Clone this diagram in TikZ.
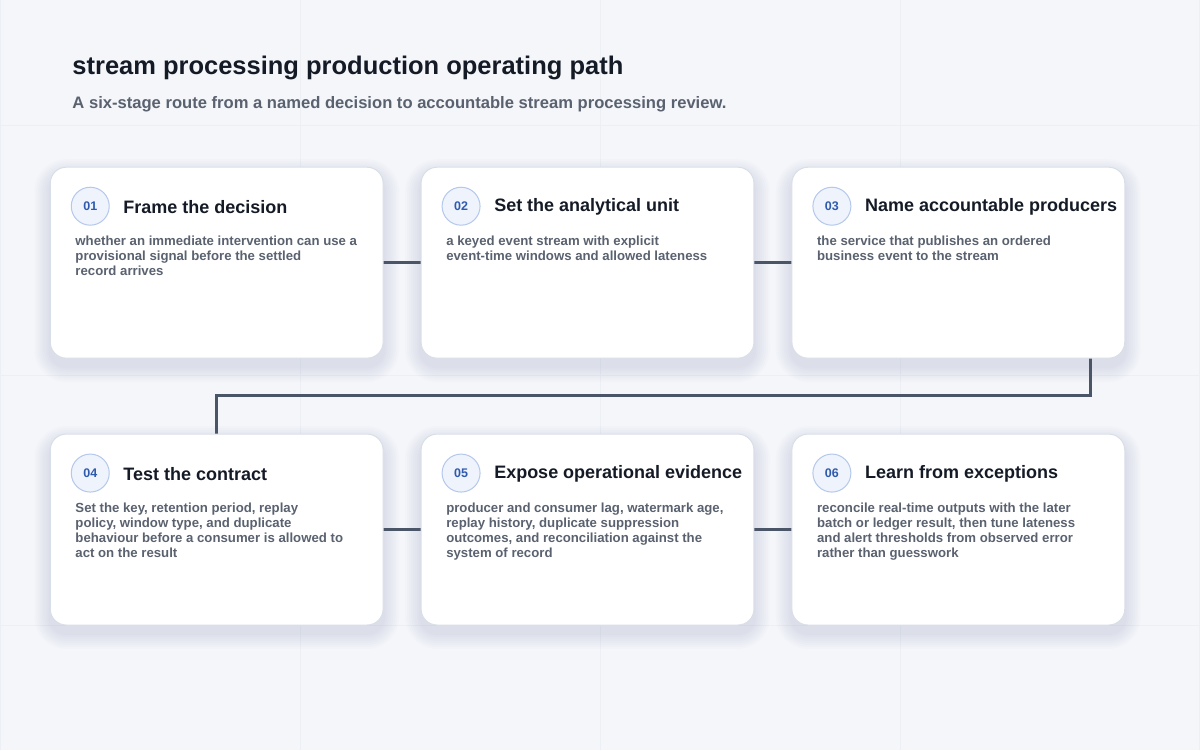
\documentclass[tikz,border=0pt]{standalone}
\usepackage{fontspec}
\setmainfont{Liberation Sans}
\definecolor{bg}{HTML}{F4F6FA}
\definecolor{gridc}{HTML}{ECEFF4}
\definecolor{cardb}{HTML}{D9DFE8}
\definecolor{line}{HTML}{4A5568}
\definecolor{circf}{HTML}{EEF3FC}
\definecolor{circb}{HTML}{B5C8EC}
\definecolor{num}{HTML}{2F5AAE}
\definecolor{ttl}{HTML}{151B26}
\definecolor{body}{HTML}{5A6270}
\definecolor{shad}{HTML}{6B7A99}
\begin{document}
\begin{tikzpicture}[x=1pt,y=-1pt,
  card/.style={draw=cardb,line width=1pt,fill=white,rounded corners=16pt},
  shd/.style={fill=shad,fill opacity=0.018,draw=none},
  circ/.style={circle,draw=circb,fill=circf,line width=1pt,minimum size=38pt,inner sep=0pt,font=\bfseries\fontsize{12.5}{14}\selectfont,text=num},
  ctitle/.style={anchor=west,font=\bfseries\fontsize{18}{20}\selectfont,text=ttl,inner sep=0pt},
  cbody/.style={anchor=north west,align=left,font=\bfseries\fontsize{13.2}{15}\selectfont,text=body,inner sep=0pt},
  conn/.style={draw=line,line width=3pt}]
\fill[bg] (0,0) rectangle (1200,750);
\foreach \x in {0,300,600,900,1200} \draw[gridc,line width=0.6pt] (\x,0)--(\x,750);
\foreach \y in {125,375,625} \draw[gridc,line width=0.6pt] (0,\y)--(1200,\y);
\useasboundingbox (0,0) rectangle (1200,750);
\node[anchor=west,inner sep=0pt,font=\bfseries\fontsize{25.5}{28}\selectfont,text=ttl] (t) at (72,68) {stream processing production operating path};
\node[anchor=west,inner sep=0pt,font=\bfseries\fontsize{16.6}{19}\selectfont,text=body] (st) at (72,104) {A six-stage route from a named decision to accountable stream processing review.};
\foreach \x/\y in {50/167,421/167,792/167,50/434,421/434,792/434}
  \foreach \s in {2,4,...,16}
    \fill[shd,rounded corners=16pt+\s] (\x-\s,\y-\s+8) rectangle ++(333+2*\s,191+2*\s);
\coordinate (c3b) at (1091,358); \coordinate (k1) at (1091,395); \coordinate (k2) at (216,395); \coordinate (c4t) at (216,434);
\draw[conn] (383,262)--(421,262);
\draw[conn] (753,262)--(792,262);
\draw[conn] (383,529)--(421,529);
\draw[conn] (753,529)--(792,529);
\draw[conn] (c3b)--(k1)--(k2)--(c4t);
\foreach \i/\x/\y/\n/\t/\b in {
 1/50/167/01/Frame the decision/{whether an immediate intervention can use a\\provisional signal before the settled\\record arrives},
 2/421/167/02/Set the analytical unit/{a keyed event stream with explicit\\event-time windows and allowed lateness},
 3/792/167/03/Name accountable producers/{the service that publishes an ordered\\business event to the stream},
 4/50/434/04/Test the contract/{Set the key, retention period, replay\\policy, window type, and duplicate\\behaviour before a consumer is allowed to\\act on the result},
 5/421/434/05/Expose operational evidence/{producer and consumer lag, watermark age,\\replay history, duplicate suppression\\outcomes, and reconciliation against the\\system of record},
 6/792/434/06/Learn from exceptions/{reconcile real-time outputs with the later\\batch or ledger result, then tune lateness\\and alert thresholds from observed error\\rather than guesswork}}{
 \draw[card] (\x,\y) rectangle ++(333,191);
 \node[circ] (n\i) at (\x+40,\y+39) {\n};
 \node[ctitle] (h\i) at (\x+73,\y+40) {\t};
 \node[cbody] (b\i) at (\x+25,\y+69) {\b};
}
\end{tikzpicture}
\end{document}
